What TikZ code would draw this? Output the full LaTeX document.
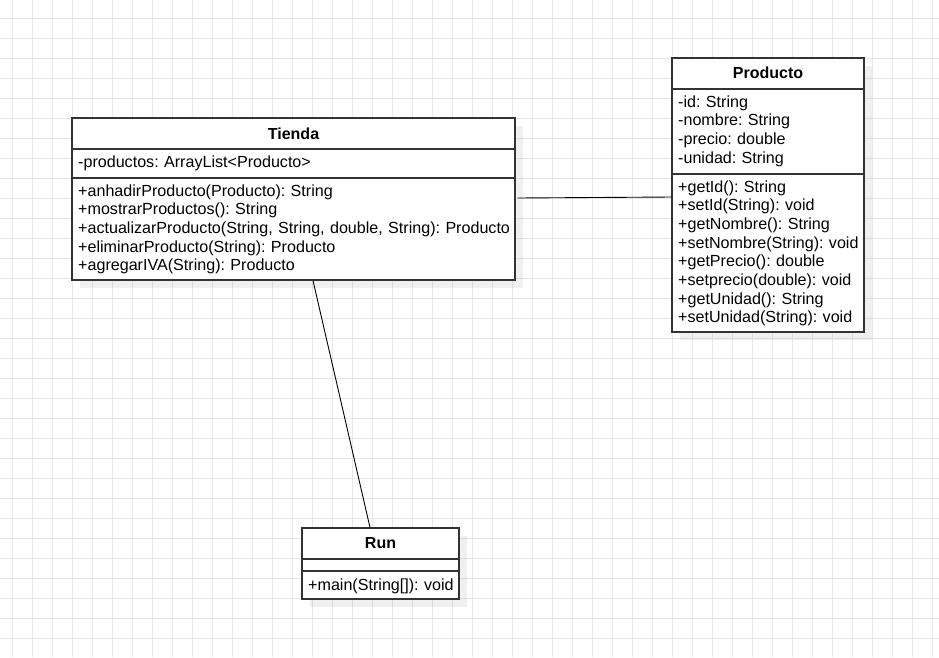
\documentclass[tikz,border=0pt]{standalone}
\usepackage{fontspec}
\setmainfont{Liberation Sans}
\usetikzlibrary{shadows}
\definecolor{gridgray}{RGB}{232,232,232}
\definecolor{boxgray}{RGB}{51,51,51}
\frenchspacing
\tikzset{
  classbox/.style={draw=boxgray, line width=1.1pt, fill=white, inner sep=0,
    drop shadow={shadow xshift=8pt, shadow yshift=-8pt, fill=black, opacity=0.06}},
  classline/.style={draw=boxgray, line width=1.1pt},
  classname/.style={font=\bfseries\fontsize{16}{18.7}\selectfont, anchor=base, inner sep=0},
  members/.style={font=\fontsize{16.1}{18.7}\selectfont, align=left, text width=600,
    anchor=base west, inner sep=0},
  link/.style={draw=black, line width=0.9pt}
}
\begin{document}
\begin{tikzpicture}[x=1pt,y=-1pt]

\useasboundingbox (0,0) rectangle (939,657);
\fill[white] (0,0) rectangle (939,657);
\draw[gridgray, line width=1pt, shift={(12,18)}] (-12,-18) grid[step=20pt] (927,639);

\node[classbox, minimum width=443, minimum height=162] (tienda) at (293.5,199) {};
\node[classbox, minimum width=192, minimum height=274] (producto) at (768,195) {};
\node[classbox, minimum width=157, minimum height=71] (run) at (380.5,563.5) {};

\draw[classline] (tienda.west |- 0,149) -- (tienda.east |- 0,149);
\draw[classline] (tienda.west |- 0,178) -- (tienda.east |- 0,178);
\draw[classline] (producto.west |- 0,89) -- (producto.east |- 0,89);
\draw[classline] (producto.west |- 0,174) -- (producto.east |- 0,174);
\draw[classline] (run.west |- 0,559) -- (run.east |- 0,559);
\draw[classline] (run.west |- 0,571) -- (run.east |- 0,571);

\node[classname] (tiendaname) at (293.5,139) {Tienda};
\node[members] (tiendaattr) at (78,167) {-productos: ArrayList<Producto>};
\node[members] (tiendaops) at (78,196) {+anhadirProducto(Producto): String\\
+mostrarProductos(): String\\
+actualizarProducto(String, String, double, String): Producto\\
+eliminarProducto(String): Producto\\
+agregarIVA(String): Producto};

\node[classname] (productoname) at (768,78) {Producto};
\node[members] (productoattr) at (678,107) {-id: String\\
-nombre: String\\
-precio: double\\
-unidad: String};
\node[members] (productoops) at (678,192) {+getId(): String\\
+setId(String): void\\
+getNombre(): String\\
+setNombre(String): void\\
+getPrecio(): double\\
+setprecio(double): void\\
+getUnidad(): String\\
+setUnidad(String): void};

\node[classname] (runname) at (380.5,548) {Run};
\node[members] (runops) at (308,590) {+main(String[]): void};

\draw[link] ([shift={(2pt,1pt)}]tienda.east) -- ([yshift=-2pt]producto.west);
\draw[link] ([xshift=19.5pt]tienda.south) -- ([xshift=-10.5pt]run.north);
\end{tikzpicture}
\end{document}
